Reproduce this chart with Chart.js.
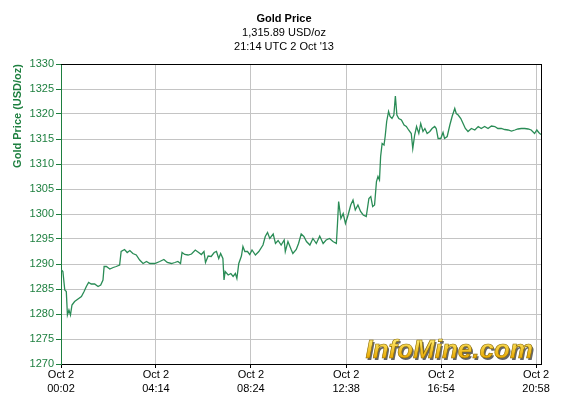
<!DOCTYPE html>
<html lang="en">
<head>
<meta charset="UTF-8">
<title>Gold Price</title>
<script src="https://cdn.jsdelivr.net/npm/chart.js"></script>
<style>
  body { margin: 0; background: #fff; }
  #wrap { width: 568px; height: 418px; }
</style>
</head>
<body>
<div id="wrap"><canvas id="goldChart" width="568" height="418"></canvas></div>
<script>
// minutes after 00:00 UTC, 2 Oct 2013
const times = [
  2, 7, 12, 16, 19, 23, 27, 31, 38, 47,
  56, 63, 69, 75, 82, 91, 100, 107, 113, 116,
  122, 131, 140, 148, 157, 161, 170, 177, 184, 192,
  201, 210, 219, 228, 237, 250, 263, 274, 283, 294,
  303, 311, 318, 322, 329, 338, 347, 357, 366, 373,
  380, 384, 391, 399, 407, 413, 419, 424, 430, 433,
  436, 444, 451, 457, 463, 467, 472, 479, 483, 488,
  495, 501, 507, 516, 525, 536, 542, 548, 554, 563,
  569, 576, 584, 592, 595, 602, 611, 615, 624, 630,
  637, 644, 651, 660, 668, 677, 686, 695, 703, 712,
  721, 730, 733, 736, 742, 748, 754, 761, 768, 774,
  780, 787, 794, 801, 809, 816, 821, 826, 831, 836,
  840, 844, 847, 851, 856, 859, 863, 868, 872, 877,
  882, 886, 890, 895, 902, 909, 915, 921, 928, 932,
  937, 942, 948, 953, 959, 964, 970, 977, 983, 990,
  994, 999, 1006, 1012, 1016, 1023, 1030, 1036, 1043, 1047,
  1052, 1059, 1065, 1071, 1078, 1087, 1096, 1105, 1113, 1122,
  1131, 1140, 1149, 1157, 1166, 1175, 1184, 1193, 1202, 1210,
  1219, 1228, 1237, 1245, 1254, 1260, 1265, 1271
];
// USD per troy ounce
const prices = [
  1288.9, 1288.5, 1284.8, 1284.5, 1279.8, 1280.8, 1279.8, 1281.8, 1282.5, 1283,
  1283.5, 1284.5, 1285.5, 1286.3, 1286, 1286, 1285.5, 1285.8, 1286.8, 1289.5,
  1289.5, 1289, 1289.3, 1289.5, 1289.8, 1292.5, 1292.9, 1292.3, 1292.7, 1292.1,
  1291.8, 1290.8, 1290.1, 1290.5, 1290.1, 1290.1, 1290.5, 1290.9, 1290.3, 1290.1,
  1290.3, 1290.5, 1290.1, 1292.3, 1291.9, 1291.8, 1292, 1292.8, 1292.3, 1291.9,
  1292.5, 1290.3, 1291.6, 1291.5, 1292.3, 1292.5, 1291.1, 1292.1, 1291.1, 1286.8,
  1288.5, 1287.8, 1288.1, 1287.5, 1288.1, 1287.1, 1290.1, 1291.6, 1293.5, 1292.5,
  1292.5, 1291.9, 1292.8, 1291.8, 1292.5, 1293.8, 1295.5, 1296.3, 1295.1, 1296,
  1294.1, 1294.7, 1293.8, 1294.8, 1292.5, 1294.5, 1292.8, 1292.1, 1292.9, 1294.1,
  1296, 1295.5, 1294.5, 1293.8, 1295.1, 1294.1, 1295.6, 1294.1, 1294.8, 1295.1,
  1294.5, 1294.1, 1298.1, 1302.5, 1299.1, 1300.1, 1298.1, 1299.8, 1301.8, 1302.8,
  1300.8, 1301.8, 1300.5, 1299.8, 1299.5, 1303.1, 1303.5, 1301.5, 1301.8, 1306.5,
  1307.5, 1306.8, 1311.5, 1314.1, 1313.8, 1315.5, 1318.5, 1320.5, 1319.5, 1319.1,
  1319.8, 1323.6, 1319.8, 1319.1, 1318.8, 1317.8, 1317.5, 1316.8, 1316.1, 1313.1,
  1315.8, 1317.5, 1316.1, 1318.1, 1316.5, 1317.1, 1316.1, 1316.5, 1317.1, 1317.5,
  1317.1, 1315.1, 1315.1, 1316.3, 1315.1, 1315.5, 1317.8, 1319.5, 1321.1, 1320.1,
  1319.8, 1319.1, 1318.1, 1317.1, 1316.5, 1317.1, 1316.8, 1317.5, 1317.1, 1317.5,
  1317.1, 1317.6, 1317.5, 1317.1, 1317.1, 1316.9, 1316.8, 1316.6, 1316.8, 1317,
  1317.1, 1317.1, 1317, 1316.8, 1316.1, 1316.8, 1316.3, 1315.9
];

// x axis labels sit at evenly spaced positions
const tickPositions = [2, 253, 504, 756, 1007, 1258];
const tickDates = ['Oct 2', 'Oct 2', 'Oct 2', 'Oct 2', 'Oct 2', 'Oct 2'];
const tickTimes = ['00:02', '04:14', '08:24', '12:38', '16:54', '20:58'];

const titleText = 'Gold Price';
const subtitleLines = ['1,315.89 USD/oz', "21:14 UTC 2 Oct '13"];
const yTitle = 'Gold Price (USD/oz)';

const GREEN = '#1d7f3f';
const LINE = '#2a8c56';
const GRID = '#c4c4c4';

Chart.defaults.font.family = 'Arial, "Liberation Sans", sans-serif';
Chart.defaults.font.size = 11;

// yellow InfoMine.com mark in the lower right of the plot
const watermark = {
  id: 'watermark',
  beforeDatasetsDraw(chart) {
    const { ctx, chartArea } = chart;
    const x = chartArea.right - 8;
    const y = chartArea.bottom - 6;
    ctx.save();
    ctx.font = 'italic bold 26px Arial, "Liberation Sans", sans-serif';
    ctx.textAlign = 'right';
    ctx.textBaseline = 'alphabetic';
    ctx.fillStyle = '#666';
    ctx.fillText('InfoMine.com', x + 1.5, y + 1.5);
    const g = ctx.createLinearGradient(0, y - 19, 0, y);
    g.addColorStop(0, '#ffec70');
    g.addColorStop(1, '#e9a800');
    ctx.fillStyle = g;
    ctx.fillText('InfoMine.com', x, y);
    ctx.lineWidth = 0.6;
    ctx.strokeStyle = '#8c6a00';
    ctx.strokeText('InfoMine.com', x, y);
    ctx.restore();
  }
};

const points = times.map((t, i) => ({ x: t, y: prices[i] }));

new Chart(document.getElementById('goldChart'), {
  type: 'line',
  data: {
    datasets: [{
      data: points,
      borderColor: LINE,
      borderWidth: 1.3,
      pointRadius: 0,
      tension: 0,
      xAxisID: 'x',
      yAxisID: 'y'
    }]
  },
  options: {
    responsive: false,
    animation: false,
    layout: { padding: 0 },
    plugins: {
      legend: { display: false },
      tooltip: { enabled: false },
      title: {
        display: true,
        text: titleText,
        color: '#000',
        font: { size: 11, weight: 'bold', lineHeight: 1.25 },
        padding: { top: 12, bottom: 0 }
      },
      subtitle: {
        display: true,
        text: subtitleLines,
        color: '#000',
        font: { size: 11, lineHeight: 14 / 11 },
        padding: { top: 0, bottom: 10.25 }
      }
    },
    scales: {
      x: {
        type: 'linear',
        position: 'bottom',
        min: 2,
        max: 1271,
        afterBuildTicks: s => { s.ticks = tickPositions.map(v => ({ value: v })); },
        afterFit: s => { s.height = 54; },
        ticks: {
          autoSkip: false,
          maxRotation: 0,
          padding: 0,
          color: '#000',
          font: { size: 11, lineHeight: 14 / 11 },
          callback: (v, i) => [tickDates[i], tickTimes[i]]
        },
        grid: {
          color: c => (c.index === 0 ? 'rgba(0,0,0,0)' : GRID),
          tickColor: '#000',
          tickLength: 4
        },
        border: { color: '#000' }
      },
      y: {
        type: 'linear',
        position: 'left',
        min: 1270,
        max: 1330,
        afterFit: s => { s.width = 61; },
        ticks: {
          stepSize: 5,
          padding: 2,
          color: GREEN,
          font: { size: 11 },
          callback: v => String(v)
        },
        grid: {
          color: c => (c.tick && (c.tick.value === 1270 || c.tick.value === 1330) ? 'rgba(0,0,0,0)' : GRID),
          tickColor: GREEN,
          tickLength: 5
        },
        border: { color: GREEN },
        title: {
          display: true,
          text: yTitle,
          align: 'end',
          color: GREEN,
          font: { size: 11, weight: 'bold' },
          padding: { top: 11, bottom: 0 }
        }
      },
      x2: {
        type: 'linear',
        position: 'top',
        min: 0,
        max: 1,
        z: 1,
        afterFit: s => { s.height = 0; },
        ticks: { display: false },
        grid: { drawOnChartArea: false, drawTicks: false },
        border: { color: '#000' }
      },
      y2: {
        type: 'linear',
        position: 'right',
        min: 0,
        max: 1,
        z: 1,
        afterFit: s => { s.width = 27; },
        ticks: { display: false },
        grid: { drawOnChartArea: false, drawTicks: false },
        border: { color: '#000' }
      }
    }
  },
  plugins: [watermark]
});
</script>
</body>
</html>
